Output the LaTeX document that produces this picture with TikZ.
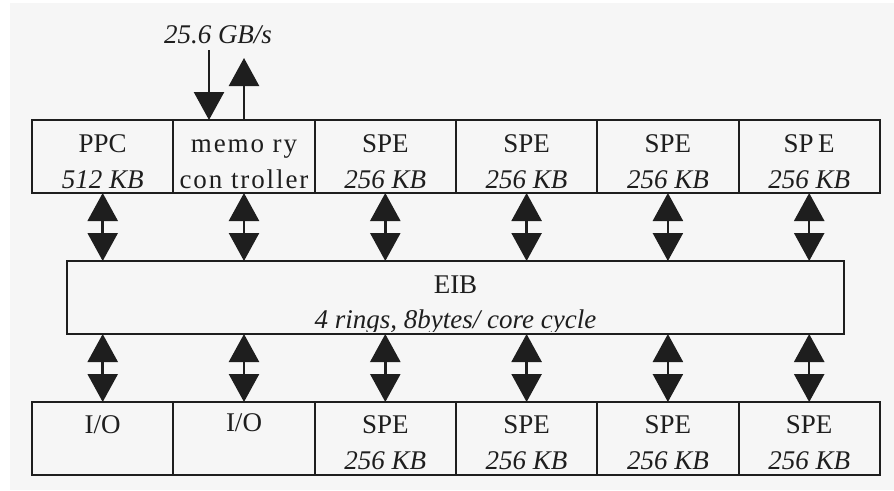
\documentclass[tikz,border=0pt]{standalone}
\usepackage{fontspec}
\setmainfont{Liberation Serif}
\usetikzlibrary{arrows.meta}
\definecolor{bg}{RGB}{246,246,246}
\definecolor{ink}{RGB}{30,30,30}
\begin{document}
\begin{tikzpicture}[x=1pt,y=-1pt,
 box/.style={draw=ink,line width=2pt,minimum width=141.3pt,minimum height=73pt,inner sep=0pt,outer sep=0pt},
 lbl/.style={anchor=base,inner sep=0pt,font=\fontsize{27}{32}\selectfont,text=ink},
 ilbl/.style={anchor=base,inner sep=0pt,font=\fontsize{27}{32}\selectfont\itshape,text=ink},
 wide/.style={font=\fontsize{27}{32}\selectfont\addfontfeature{LetterSpace=7}},
 tip/.tip={Triangle[width=30pt,length=28pt]},
 dbl/.style={draw=ink,line width=2.5pt,tip-tip},
 sgl/.style={draw=ink,line width=2.5pt,-tip}]
\useasboundingbox (0,0) rectangle (894,490);
\fill[white] (0,0) rectangle (894,490);
\fill[bg] (10,3) rectangle (894,490);

% boxes
\foreach \i/\x in {1/102.7,2/244.0,3/385.3,4/526.6,5/667.9,6/809.2}{
  \node[box] (t\i) at (\x,156.5) {};
  \node[box] (b\i) at (\x,438.5) {};
}

% top labels
\node[lbl] (t1a) at (102.7,152) {PPC};
\node[ilbl] (t1b) at (102.7,188) {512 KB};
\node[lbl,wide] (t2a) at (244.0,152) {memo ry};
\node[lbl,wide] (t2b) at (244.0,188) {con troller};
\node[lbl] (t3a) at (385.3,152) {SPE};
\node[ilbl] (t3b) at (385.3,188) {256 KB};
\node[lbl] (t4a) at (526.6,152) {SPE};
\node[ilbl] (t4b) at (526.6,188) {256 KB};
\node[lbl] (t5a) at (667.9,152) {SPE};
\node[ilbl] (t5b) at (667.9,188) {256 KB};
\node[lbl] (t6a) at (809.2,152) {SP\,E};
\node[ilbl] (t6b) at (809.2,188) {256 KB};

% EIB labels (clipped by the box)
\begin{scope}
\clip (67,261) rectangle (844,331);
\node[lbl] (eiba) at (455.5,293) {EIB};
\node[ilbl] (eibb) at (455.5,328) {4 rings, 8bytes/ core cycle};
\end{scope}
\node[box,minimum width=777pt] (eib) at (455.5,297.5) {};

% bottom labels
\node[lbl] (b1a) at (102.7,433) {I/O};
\node[lbl] (b2a) at (244.0,431) {I/O};
\foreach \i/\x in {3/385.3,4/526.6,5/667.9,6/809.2}{
  \node[lbl] (b\i a) at (\x,433) {SPE};
  \node[ilbl] (b\i b) at (\x,469) {256 KB};
}

% bus connectors
\foreach \i in {1,...,6}{
  \draw[dbl] (t\i.south) -- (t\i.south |- eib.north);
  \draw[dbl] (b\i.north |- eib.south) -- (b\i.north);
}

% memory interface
\node[ilbl] (bw) at (218,43) {25.6 GB/s};
\coordinate (min) at (209,50);
\coordinate (mout) at (244.0,58);
\draw[sgl] (min) -- (min |- t2.north);
\draw[sgl] (t2.north) -- (mout);
\end{tikzpicture}
\end{document}
